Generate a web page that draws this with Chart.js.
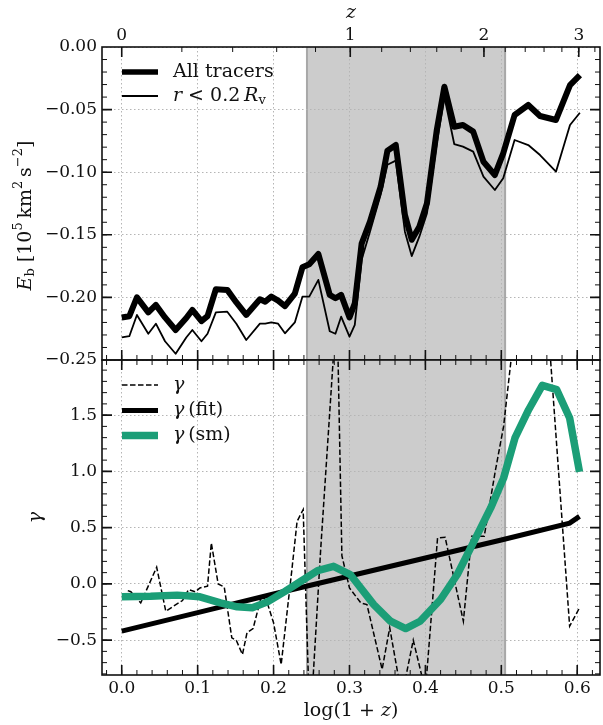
<!DOCTYPE html>
<html>
<head>
<meta charset="utf-8">
<script src="https://cdn.jsdelivr.net/npm/chart.js@4.4.1/dist/chart.umd.min.js"></script>
<style>
  html, body { margin: 0; padding: 0; background: #fff; }
  #wrap { position: relative; width: 603px; height: 725px; }
  canvas { position: absolute; left: 0; top: 0; }
</style>
</head>
<body>
<div id="wrap">
  <canvas id="topPanel" width="603" height="725"></canvas>
  <canvas id="bottomPanel" width="603" height="725"></canvas>
</div>
<script>
// top panel: binding energy, all tracers and inner region
const logzEb = [0.000, 0.010, 0.020, 0.035, 0.045, 0.057, 0.071, 0.085, 0.093, 0.105, 0.113, 0.124, 0.139, 0.151, 0.164, 0.182, 0.189, 0.197, 0.206, 0.215, 0.228, 0.238, 0.247, 0.259, 0.274, 0.2815, 0.289, 0.300, 0.307, 0.316, 0.327, 0.341, 0.350, 0.361, 0.373, 0.382, 0.392, 0.402, 0.415, 0.425, 0.438, 0.4495, 0.463, 0.4765, 0.4915, 0.5025, 0.5175, 0.5355, 0.551, 0.572, 0.5905, 0.6035];
const ebAll = [-0.216, -0.215, -0.200, -0.212, -0.206, -0.216, -0.226, -0.2165, -0.210, -0.219, -0.215, -0.1935, -0.194, -0.204, -0.214, -0.2015, -0.2034, -0.1994, -0.2026, -0.207, -0.197, -0.176, -0.1736, -0.1653, -0.198, -0.2007, -0.198, -0.216, -0.2048, -0.157, -0.1395, -0.1116, -0.0828, -0.0783, -0.134, -0.154, -0.1435, -0.125, -0.0663, -0.0317, -0.0637, -0.0623, -0.0676, -0.0916, -0.1022, -0.085, -0.0543, -0.0463, -0.0551, -0.0583, -0.0304, -0.0224];
const ebInner = [-0.232, -0.231, -0.214, -0.229, -0.221, -0.235, -0.245, -0.232, -0.226, -0.235, -0.229, -0.212, -0.2114, -0.221, -0.234, -0.221, -0.221, -0.220, -0.221, -0.2287, -0.220, -0.1994, -0.1994, -0.186, -0.227, -0.229, -0.2154, -0.2314, -0.222, -0.170, -0.1475, -0.118, -0.094, -0.0908, -0.1475, -0.167, -0.1515, -0.133, -0.077, -0.0397, -0.0775, -0.0796, -0.0836, -0.1036, -0.1142, -0.1049, -0.0743, -0.0783, -0.0863, -0.0996, -0.0623, -0.0525];

// bottom panel: gamma, raw / fit / smoothed
const logzGamma = [0.008, 0.012, 0.025, 0.046, 0.058, 0.068, 0.080, 0.088, 0.097, 0.103, 0.113, 0.118, 0.127, 0.135, 0.145, 0.151, 0.159, 0.165, 0.173, 0.184, 0.191, 0.200, 0.210, 0.224, 0.231, 0.239, 0.248, 0.262, 0.2835, 0.290, 0.300, 0.315, 0.323, 0.343, 0.353, 0.369, 0.384, 0.400, 0.416, 0.426, 0.450, 0.461, 0.4775, 0.492, 0.503, 0.518, 0.536, 0.551, 0.590, 0.603];
const gamma = [-0.06, -0.07, -0.17, 0.148, -0.243, -0.199, -0.148, -0.051, -0.071, -0.036, -0.021, 0.364, 0.0, -0.027, -0.48, -0.503, -0.628, -0.435, -0.397, -0.11, -0.154, -0.346, -0.717, 0.118, 0.556, 0.66, -1.3, 0.3, 2.5, 0.25, -0.036, -0.169, -0.184, -0.76, -0.39, -1.0, -0.50, -0.95, 0.408, 0.414, -0.332, 0.423, 0.423, 1.0, 1.4, 2.3, 3.5, 3.3, -0.376, -0.213];
const logzFit = [0.000, 0.100, 0.200, 0.300, 0.400, 0.500, 0.590, 0.603];
const gammaFit = [-0.42, -0.255, -0.09, 0.07, 0.23, 0.39, 0.54, 0.60];
const logzSmooth = [0.000, 0.038, 0.073, 0.103, 0.130, 0.152, 0.172, 0.192, 0.214, 0.236, 0.258, 0.279, 0.301, 0.332, 0.354, 0.374, 0.393, 0.420, 0.442, 0.464, 0.486, 0.503, 0.518, 0.536, 0.554, 0.573, 0.590, 0.603];
const gammaSmooth = [-0.115, -0.11, -0.10, -0.115, -0.169, -0.204, -0.213, -0.16, -0.071, 0.023, 0.118, 0.156, 0.083, -0.184, -0.332, -0.397, -0.332, -0.139, 0.083, 0.378, 0.675, 0.94, 1.297, 1.548, 1.764, 1.726, 1.474, 0.995];

const zTicks = [0, 1, 2, 3];
const zSpan = [0.244, 0.505]; // shaded band, in log(1+z)

const SERIF = '"DejaVu Serif", "Liberation Serif", serif';
const font = (size, style) => (style ? style + ' ' : '') + size + 'px ' + SERIF;
const rm = t => ({t, font: font(19)});
const it = t => ({t, font: font(19, 'italic')});
const sup = t => ({t, font: font(13), dy: -7});
const sub = t => ({t, font: font(13), dy: 5});
const pts = (xs, ys) => xs.map((x, i) => ({x, y: ys[i]}));
const minus = (v, d) => (v < -1e-9 ? '\u2212' : '') + Math.abs(v).toFixed(d);

function range(a, b, step) {
    let out = [];
    let n = Math.round((b - a) / step);
    for (let i = 0; i <= n; i++) out.push(+(a + i * step).toFixed(6));
    return out;
}
const xMajor = range(0, 0.6, 0.1);
const xMinor = range(-0.02, 0.62, 0.02);
const zMajor = zTicks.map(z => Math.log10(1 + z));
const zMinor = range(0.2, 3.2, 0.2).map(z => Math.log10(1 + z));

function drawRich(ctx, parts, x, y, align) {
    let w = 0;
    parts.forEach(p => { ctx.font = p.font; w += ctx.measureText(p.t).width; });
    let cx = align === 'center' ? x - w / 2 : x;
    ctx.textAlign = 'left';
    ctx.textBaseline = 'middle';
    parts.forEach(p => {
        ctx.font = p.font;
        ctx.fillText(p.t, cx, y + (p.dy || 0));
        cx += ctx.measureText(p.t).width;
    });
}

const shadePlugin = {
    id: 'shade',
    beforeDraw(chart) {
        const {ctx, chartArea: a} = chart;
        const xs = chart.scales.x;
        const x0 = xs.getPixelForValue(zSpan[0]), x1 = xs.getPixelForValue(zSpan[1]);
        ctx.save();
        ctx.fillStyle = '#cccccc';
        ctx.fillRect(x0, a.top, x1 - x0, a.bottom - a.top);
        ctx.strokeStyle = '#a8a8a8';
        ctx.lineWidth = 2;
        ctx.beginPath();
        ctx.moveTo(x0, a.top); ctx.lineTo(x0, a.bottom);
        ctx.moveTo(x1, a.top); ctx.lineTo(x1, a.bottom);
        ctx.stroke();
        ctx.restore();
    }
};

// inward ticks on all four sides, frame, legend, axis titles
const decorPlugin = {
    id: 'decor',
    afterDraw(chart, args, opts) {
        const {ctx, chartArea: a} = chart;
        ctx.save();
        ctx.strokeStyle = '#111';
        opts.sides.forEach(s => {
            const sc = chart.scales[s.scale];
            [[s.minor, 5, 1], [s.major, 10, 1.6]].forEach(([vals, len, lw]) => {
                ctx.lineWidth = lw;
                ctx.beginPath();
                vals.forEach(v => {
                    const p = sc.getPixelForValue(v);
                    if (s.edge === 'bottom' || s.edge === 'top') {
                        if (p < a.left + 0.5 || p > a.right - 0.5) return;
                        const y0 = s.edge === 'bottom' ? a.bottom : a.top;
                        const dir = s.edge === 'bottom' ? -1 : 1;
                        ctx.moveTo(p, y0); ctx.lineTo(p, y0 + dir * len);
                    } else {
                        if (p < a.top + 0.5 || p > a.bottom - 0.5) return;
                        const x0 = s.edge === 'left' ? a.left : a.right;
                        const dir = s.edge === 'left' ? 1 : -1;
                        ctx.moveTo(x0, p); ctx.lineTo(x0 + dir * len, p);
                    }
                });
                ctx.stroke();
            });
        });
        ctx.lineWidth = 1.6;
        ctx.strokeRect(a.left, a.top, a.right - a.left, a.bottom - a.top);

        ctx.fillStyle = '#111';
        opts.legend.forEach(item => {
            const ds = chart.data.datasets[item.ds];
            ctx.save();
            ctx.strokeStyle = ds.borderColor;
            ctx.lineWidth = item.lw || ds.borderWidth;
            ctx.setLineDash(ds.borderDash || []);
            ctx.beginPath();
            ctx.moveTo(a.left + 20, a.top + item.dy);
            ctx.lineTo(a.left + 56, a.top + item.dy);
            ctx.stroke();
            ctx.restore();
            drawRich(ctx, item.parts, a.left + 71, a.top + item.dy, 'left');
        });

        opts.titles.forEach(t => {
            const [x, y] = t.pos(a);
            ctx.save();
            ctx.translate(x, y);
            if (t.rot) ctx.rotate(t.rot);
            drawRich(ctx, t.parts, 0, 0, 'center');
            ctx.restore();
        });
        ctx.restore();
    }
};

const tickFont = {family: SERIF, size: 17};
const gridOpts = {color: '#b5b5b5', lineWidth: 1, drawTicks: false};
const gridBorder = {display: false, dash: [1.5, 2.5]};
const X_MIN = -0.026, X_MAX = 0.630;

const topChart = new Chart(document.getElementById('topPanel'), {
    type: 'line',
    data: {
        datasets: [{
            label: 'All tracers',
            data: pts(logzEb, ebAll),
            borderColor: '#000',
            borderWidth: 6,
            borderJoinStyle: 'round',
            pointRadius: 0,
            clip: 0
        }, {
            label: 'r < 0.2 Rv',
            data: pts(logzEb, ebInner),
            borderColor: '#000',
            borderWidth: 1.8,
            borderJoinStyle: 'round',
            pointRadius: 0,
            clip: 0
        }]
    },
    options: {
        responsive: false,
        animation: false,
        events: [],
        layout: {padding: {left: 0, right: 3, top: 0, bottom: 365}},
        plugins: {
            legend: {display: false},
            tooltip: {enabled: false},
            decor: {
                sides: [
                    {edge: 'bottom', scale: 'x', major: xMajor, minor: xMinor},
                    {edge: 'top', scale: 'z', major: zMajor, minor: zMinor},
                    {edge: 'left', scale: 'y', major: range(-0.25, 0, 0.05), minor: range(-0.25, 0, 0.01)},
                    {edge: 'right', scale: 'y', major: range(-0.25, 0, 0.05), minor: range(-0.25, 0, 0.01)}
                ],
                legend: [
                    {ds: 0, dy: 25, lw: 5.5, parts: [rm('All tracers')]},
                    {ds: 1, dy: 49, lw: 1.8, parts: [it('r'), rm(' < 0.2\u2009'), it('R'), sub('v')]}
                ],
                titles: [
                    {pos: a => [26, (a.top + a.bottom) / 2 + 12], rot: -Math.PI / 2,
                     parts: [it('E'), sub('b'), rm(' [10'), sup('5'), rm('\u2009km'), sup('2'), rm('\u2009s'), sup('\u22122'), rm(']')]},
                    {pos: a => [(a.left + a.right) / 2, a.top - 34], parts: [it('z')]}
                ]
            }
        },
        scales: {
            x: {
                type: 'linear', position: 'bottom', min: X_MIN, max: X_MAX,
                ticks: {display: false, stepSize: 0.1, includeBounds: false},
                grid: gridOpts, border: gridBorder,
                afterFit: s => { s.height = 0; }
            },
            z: {
                type: 'linear', position: 'top', min: X_MIN, max: X_MAX,
                grid: {display: false}, border: {display: false},
                afterBuildTicks: s => { s.ticks = zTicks.map(z => ({value: Math.log10(1 + z)})); },
                ticks: {font: tickFont, color: '#111', padding: -7, autoSkip: false, maxRotation: 0,
                        callback: (v, i) => String(zTicks[i])},
                afterFit: s => { s.height = 47; }
            },
            y: {
                type: 'linear', min: -0.25, max: 0,
                ticks: {font: tickFont, color: '#111', padding: 5, stepSize: 0.05, callback: v => minus(v, 2)},
                grid: gridOpts, border: gridBorder,
                afterFit: s => { s.width = 102; }
            }
        }
    },
    plugins: [shadePlugin, decorPlugin]
});

const bottomChart = new Chart(document.getElementById('bottomPanel'), {
    type: 'line',
    data: {
        datasets: [{
            label: 'gamma',
            data: pts(logzGamma, gamma),
            borderColor: '#000',
            borderWidth: 1.5,
            borderDash: [5.5, 2.5],
            pointRadius: 0,
            clip: 0,
            order: 2
        }, {
            label: 'gamma (fit)',
            data: pts(logzFit, gammaFit),
            borderColor: '#000',
            borderWidth: 5,
            pointRadius: 0,
            clip: 0,
            order: 1
        }, {
            label: 'gamma (sm)',
            data: pts(logzSmooth, gammaSmooth),
            borderColor: '#1b9e77',
            borderWidth: 7.5,
            borderJoinStyle: 'round',
            pointRadius: 0,
            clip: 0,
            order: 0
        }]
    },
    options: {
        responsive: false,
        animation: false,
        events: [],
        layout: {padding: {left: 0, right: 3, top: 360, bottom: 0}},
        plugins: {
            legend: {display: false},
            tooltip: {enabled: false},
            decor: {
                sides: [
                    {edge: 'bottom', scale: 'x', major: xMajor, minor: xMinor},
                    {edge: 'top', scale: 'x', major: xMajor, minor: xMinor},
                    {edge: 'left', scale: 'y', major: range(-0.5, 1.5, 0.5), minor: range(-0.8, 1.9, 0.1)},
                    {edge: 'right', scale: 'y', major: range(-0.5, 1.5, 0.5), minor: range(-0.8, 1.9, 0.1)}
                ],
                legend: [
                    {ds: 0, dy: 25, parts: [it('\u03b3')]},
                    {ds: 1, dy: 50.5, parts: [it('\u03b3'), rm('\u2009(fit)')]},
                    {ds: 2, dy: 75.5, parts: [it('\u03b3'), rm('\u2009(sm)')]}
                ],
                titles: [
                    {pos: a => [36, (a.top + a.bottom) / 2], rot: -Math.PI / 2, parts: [it('\u03b3')]},
                    {pos: a => [(a.left + a.right) / 2, a.bottom + 36], parts: [rm('log(1 + '), it('z'), rm(')')]}
                ]
            }
        },
        scales: {
            x: {
                type: 'linear', position: 'bottom', min: X_MIN, max: X_MAX,
                ticks: {font: tickFont, color: '#111', padding: 3, stepSize: 0.1, includeBounds: false,
                        maxRotation: 0, callback: v => minus(v, 1)},
                grid: gridOpts, border: gridBorder,
                afterFit: s => { s.height = 50; }
            },
            y: {
                type: 'linear', min: -0.81, max: 1.99,
                ticks: {font: tickFont, color: '#111', padding: 5, stepSize: 0.5, includeBounds: false,
                        callback: v => minus(v, 1)},
                grid: gridOpts, border: gridBorder,
                afterFit: s => { s.width = 102; }
            }
        }
    },
    plugins: [shadePlugin, decorPlugin]
});
</script>
</body>
</html>
